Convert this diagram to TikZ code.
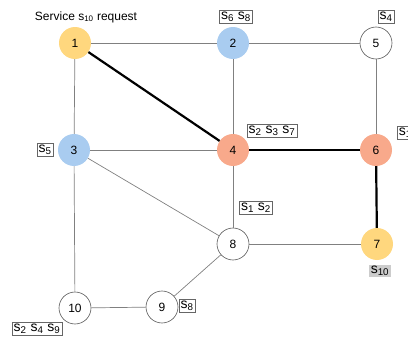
\documentclass[tikz,border=0pt]{standalone}
\usepackage{fontspec}
\setmainfont{Liberation Sans}
\newcommand{\sv}[1]{s\textsubscript{#1}}
\begin{document}
\begin{tikzpicture}[x=1pt,y=-1pt,
  nd/.style={circle,minimum size=32pt,inner sep=0pt,font=\fontsize{12}{13}\selectfont},
  wnode/.style={nd,draw=black!65,fill=white,line width=0.6pt},
  lab/.style={draw=black!60,line width=0.5pt,fill=white,inner sep=1.5pt,font=\fontsize{14}{15}\selectfont},
  thin/.style={draw=black!50,line width=0.7pt},
  thick/.style={draw=black,line width=2.2pt}]
\useasboundingbox (0,0) rectangle (408,340);
\clip (0,0) rectangle (408,340);
\definecolor{ycol}{HTML}{FFD77E}
\definecolor{bcol}{HTML}{A9CCF0}
\definecolor{ocol}{HTML}{F8A98B}
\node[nd,fill=ycol] (n1) at (75,43) {1};
\node[nd,fill=bcol] (n2) at (233,43) {2};
\node[wnode] (n5) at (376,43) {5};
\node[nd,fill=bcol] (n3) at (74,150) {3};
\node[nd,fill=ocol] (n4) at (233,150) {4};
\node[nd,fill=ocol] (n6) at (376,150) {6};
\node[wnode] (n8) at (233,244) {8};
\node[nd,fill=ycol] (n7) at (377,244) {7};
\node[wnode] (n10) at (75,308) {10};
\node[wnode] (n9) at (162,307) {9};
% edges
\draw[thin] (n1) -- (n2);
\draw[thin] (n2) -- (n5);
\draw[thin] (n1) -- (n3);
\draw[thin] (n2) -- (n4);
\draw[thin] (n5) -- (n6);
\draw[thin] (n3) -- (n4);
\draw[thin] (n3) -- (n8);
\draw[thin] (n4) -- (n8);
\draw[thin] (n8) -- (n7);
\draw[thin] (n3) -- (n10);
\draw[thin] (n10) -- (n9);
\draw[thin] (n9) -- (n8);
\draw[thick] (n1) -- (n4);
\draw[thick] (n4) -- (n6);
\draw[thick] (n6) -- (n7);
% labels
\node[font=\fontsize{12}{13}\selectfont] (req) at (86,17) {Service \sv{10} request};
\node[lab] (l2) at (236,17) {\sv{6} \sv{8}};
\node[lab] (l5) at (386,17) {\sv{4}};
\node[lab] (l3) at (45,150) {\sv{5}};
\node[lab] (l4) at (272,131) {\sv{2} \sv{3} \sv{7}};
\node[lab,anchor=west] (l6) at (397,133) {\sv{1}};
\node[lab] (l8) at (256,208) {\sv{1} \sv{2}};
\node[lab,draw=none,fill=black!20] (l7) at (380,271) {\sv{10}};
\node[lab] (l9) at (187,306) {\sv{8}};
\node[lab] (l10) at (37,329) {\sv{2} \sv{4} \sv{9}};
\end{tikzpicture}
\end{document}
